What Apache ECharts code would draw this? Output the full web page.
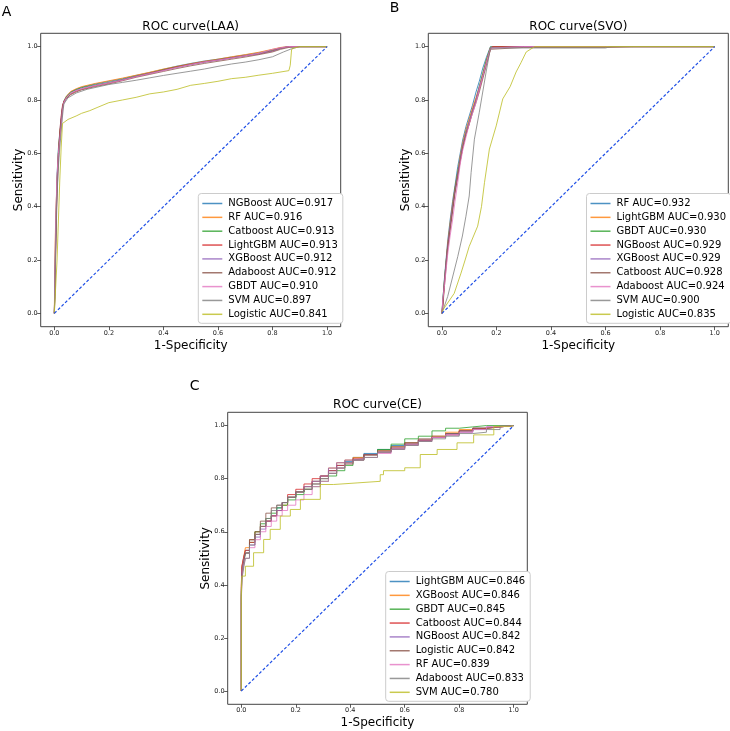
<!DOCTYPE html>
<html><head><meta charset="utf-8">
<script src="https://cdn.jsdelivr.net/npm/echarts@6/dist/echarts.min.js"></script>
<style>html,body{margin:0;padding:0;background:#fff}#c{width:730px;height:731px}</style>
</head><body><div id="c"></div><script>
// ---------- Panel A (LAA) ----------
const A_fpr = [0, 0.002, 0.005, 0.01, 0.015, 0.02, 0.025, 0.03, 0.035, 0.045, 0.06, 0.08, 0.1, 0.15, 0.2, 0.25, 0.3, 0.35, 0.4, 0.45, 0.5, 0.55, 0.6, 0.65, 0.7, 0.75, 0.8, 0.83, 0.86, 0.9, 1.0];
const A_NGBoost  = [0, 0.12, 0.32, 0.52, 0.62, 0.68, 0.73, 0.775, 0.797, 0.815, 0.83, 0.84, 0.848, 0.86, 0.87, 0.88, 0.892, 0.903, 0.915, 0.927, 0.937, 0.946, 0.953, 0.961, 0.969, 0.977, 0.988, 0.996, 1.0, 1.0, 1.0];
const A_RF       = [0, 0.2, 0.36, 0.5, 0.6, 0.67, 0.72, 0.77, 0.795, 0.815, 0.832, 0.842, 0.85, 0.862, 0.872, 0.882, 0.893, 0.904, 0.916, 0.926, 0.936, 0.945, 0.953, 0.962, 0.97, 0.979, 0.99, 0.997, 1.0, 1.0, 1.0];
const A_Catboost = [0, 0.1, 0.28, 0.5, 0.61, 0.67, 0.72, 0.77, 0.793, 0.812, 0.828, 0.838, 0.846, 0.857, 0.866, 0.877, 0.889, 0.9, 0.913, 0.924, 0.934, 0.943, 0.951, 0.958, 0.966, 0.974, 0.985, 0.994, 1.0, 1.0, 1.0];
const A_LightGBM = [0, 0.08, 0.25, 0.48, 0.6, 0.68, 0.74, 0.78, 0.795, 0.808, 0.822, 0.833, 0.84, 0.853, 0.863, 0.875, 0.888, 0.9, 0.912, 0.924, 0.934, 0.943, 0.95, 0.958, 0.966, 0.973, 0.984, 0.994, 1.0, 1.0, 1.0];
const A_XGBoost  = [0, 0.1, 0.3, 0.5, 0.6, 0.66, 0.72, 0.77, 0.792, 0.81, 0.825, 0.836, 0.843, 0.855, 0.865, 0.876, 0.888, 0.899, 0.911, 0.922, 0.932, 0.941, 0.949, 0.957, 0.965, 0.973, 0.983, 0.993, 1.0, 1.0, 1.0];
const A_Adaboost = [0, 0.06, 0.22, 0.45, 0.58, 0.66, 0.72, 0.77, 0.79, 0.806, 0.82, 0.83, 0.838, 0.85, 0.86, 0.872, 0.885, 0.896, 0.907, 0.918, 0.928, 0.937, 0.945, 0.953, 0.961, 0.97, 0.98, 0.99, 0.997, 1.0, 1.0];
const A_GBDT     = [0, 0.15, 0.35, 0.52, 0.6, 0.65, 0.7, 0.76, 0.79, 0.81, 0.826, 0.835, 0.842, 0.854, 0.864, 0.874, 0.887, 0.899, 0.91, 0.922, 0.933, 0.943, 0.95, 0.957, 0.966, 0.975, 0.99, 0.996, 1.0, 1.0, 1.0];
const A_SVM_fpr  = [0, 0.003, 0.008, 0.015, 0.02, 0.03, 0.035, 0.05, 0.08, 0.12, 0.2, 0.25, 0.3, 0.35, 0.4, 0.45, 0.5, 0.55, 0.6, 0.65, 0.7, 0.75, 0.8, 0.84, 0.87, 0.9, 1.0];
const A_SVM      = [0, 0.15, 0.4, 0.55, 0.62, 0.74, 0.785, 0.808, 0.826, 0.84, 0.858, 0.866, 0.874, 0.883, 0.892, 0.9, 0.908, 0.916, 0.926, 0.935, 0.942, 0.951, 0.962, 0.98, 0.992, 1.0, 1.0];
const A_Log_fpr  = [0, 0.005, 0.01, 0.015, 0.02, 0.025, 0.03, 0.05, 0.08, 0.1, 0.13, 0.16, 0.2, 0.25, 0.3, 0.35, 0.4, 0.45, 0.5, 0.55, 0.6, 0.65, 0.7, 0.75, 0.8, 0.86, 0.865, 0.87, 0.88, 0.9, 1.0];
const A_Logistic = [0, 0.1, 0.2, 0.35, 0.5, 0.62, 0.712, 0.727, 0.74, 0.75, 0.76, 0.773, 0.79, 0.8, 0.81, 0.823, 0.83, 0.84, 0.855, 0.862, 0.87, 0.88, 0.885, 0.893, 0.9, 0.91, 0.93, 0.99, 0.995, 1.0, 1.0];
const A_names = ['NGBoost AUC=0.917','RF AUC=0.916','Catboost AUC=0.913','LightGBM AUC=0.913','XGBoost AUC=0.912','Adaboost AUC=0.912','GBDT AUC=0.910','SVM AUC=0.897','Logistic AUC=0.841'];

// ---------- Panel B (SVO) ----------
const B_fpr = [0, 0.003, 0.009, 0.015, 0.021, 0.03, 0.039, 0.048, 0.058, 0.067, 0.076, 0.088, 0.1, 0.112, 0.125, 0.137, 0.15, 0.163, 0.178, 0.185, 0.3, 0.6, 0.7, 1.0];
const B_RF       = [0, 0.04, 0.13, 0.2, 0.27, 0.35, 0.42, 0.48, 0.55, 0.6, 0.65, 0.7, 0.74, 0.78, 0.83, 0.87, 0.92, 0.96, 1.0, 1.0, 1.0, 1.0, 1.0, 1.0];
const B_LightGBM = [0, 0.03, 0.12, 0.19, 0.26, 0.34, 0.41, 0.47, 0.53, 0.59, 0.64, 0.69, 0.73, 0.77, 0.81, 0.85, 0.9, 0.95, 0.998, 1.0, 1.0, 1.0, 1.0, 1.0];
const B_GBDT     = [0, 0.05, 0.12, 0.19, 0.25, 0.33, 0.4, 0.47, 0.53, 0.58, 0.63, 0.68, 0.72, 0.76, 0.8, 0.85, 0.9, 0.95, 0.998, 1.0, 1.0, 1.0, 1.0, 1.0];
const B_NGBoost  = [0, 0.03, 0.11, 0.18, 0.25, 0.32, 0.39, 0.46, 0.52, 0.57, 0.62, 0.67, 0.71, 0.76, 0.8, 0.84, 0.89, 0.94, 0.99, 1.0, 1.0, 1.0, 1.0, 1.0];
const B_XGBoost  = [0, 0.04, 0.12, 0.19, 0.25, 0.33, 0.4, 0.46, 0.52, 0.58, 0.63, 0.68, 0.72, 0.76, 0.8, 0.85, 0.89, 0.94, 0.995, 1.0, 1.0, 1.0, 1.0, 1.0];
const B_Catboost = [0, 0.02, 0.1, 0.17, 0.24, 0.31, 0.38, 0.45, 0.51, 0.57, 0.62, 0.67, 0.71, 0.75, 0.79, 0.83, 0.88, 0.93, 0.99, 0.997, 0.997, 0.997, 1.0, 1.0];
const B_Adaboost = [0, 0.05, 0.1, 0.16, 0.22, 0.29, 0.35, 0.42, 0.49, 0.56, 0.61, 0.66, 0.71, 0.75, 0.79, 0.84, 0.89, 0.94, 0.995, 1.0, 1.0, 1.0, 1.0, 1.0];
const B_SVM_fpr  = [0, 0.021, 0.04, 0.058, 0.075, 0.088, 0.1, 0.107, 0.119, 0.137, 0.162, 0.178, 0.6, 0.62, 1.0];
const B_SVM      = [0, 0.063, 0.14, 0.213, 0.29, 0.364, 0.44, 0.528, 0.653, 0.754, 0.905, 0.995, 0.995, 1.0, 1.0];
const B_Log_fpr  = [0, 0.003, 0.045, 0.07, 0.085, 0.1, 0.131, 0.145, 0.156, 0.174, 0.199, 0.223, 0.25, 0.272, 0.29, 0.309, 0.34, 1.0];
const B_Logistic = [0, 0.012, 0.075, 0.151, 0.2, 0.251, 0.327, 0.4, 0.49, 0.616, 0.703, 0.804, 0.85, 0.905, 0.94, 0.98, 1.0, 1.0];
const B_names = ['RF AUC=0.932','LightGBM AUC=0.930','GBDT AUC=0.930','NGBoost AUC=0.929','XGBoost AUC=0.929','Catboost AUC=0.928','Adaboost AUC=0.924','SVM AUC=0.900','Logistic AUC=0.835'];

// ---------- Panel C (CE) ----------
const C_fpr = [0, 0.002, 0.008, 0.015, 0.03, 0.05, 0.07, 0.09, 0.11, 0.13, 0.15, 0.17, 0.2, 0.23, 0.26, 0.29, 0.32, 0.35, 0.38, 0.41, 0.45, 0.5, 0.55, 0.6, 0.65, 0.7, 0.75, 0.8, 0.85, 0.9, 0.95, 1.0];
const C_LightGBM = [0, 0.36, 0.46, 0.5, 0.53, 0.57, 0.59, 0.62, 0.64, 0.66, 0.69, 0.71, 0.73, 0.75, 0.77, 0.79, 0.81, 0.83, 0.85, 0.865, 0.88, 0.895, 0.91, 0.925, 0.935, 0.945, 0.955, 0.97, 0.98, 0.99, 0.995, 1.0];
const C_XGBoost  = [0, 0.4, 0.47, 0.5, 0.54, 0.57, 0.6, 0.62, 0.64, 0.66, 0.68, 0.7, 0.73, 0.75, 0.77, 0.79, 0.81, 0.84, 0.86, 0.87, 0.88, 0.89, 0.905, 0.92, 0.935, 0.945, 0.96, 0.975, 0.985, 0.99, 0.995, 1.0];
const C_GBDT     = [0, 0.37, 0.44, 0.48, 0.52, 0.56, 0.6, 0.63, 0.65, 0.67, 0.69, 0.7, 0.72, 0.74, 0.76, 0.77, 0.79, 0.81, 0.83, 0.85, 0.87, 0.89, 0.91, 0.93, 0.95, 0.96, 0.98, 0.99, 0.995, 1.0, 1.0, 1.0];
const C_Catboost = [0, 0.39, 0.47, 0.5, 0.53, 0.56, 0.59, 0.62, 0.64, 0.66, 0.68, 0.71, 0.74, 0.76, 0.78, 0.8, 0.81, 0.83, 0.85, 0.86, 0.875, 0.89, 0.9, 0.915, 0.93, 0.945, 0.955, 0.965, 0.98, 0.99, 0.995, 1.0];
const C_NGBoost  = [0, 0.38, 0.45, 0.49, 0.52, 0.55, 0.58, 0.61, 0.64, 0.66, 0.68, 0.71, 0.73, 0.75, 0.77, 0.79, 0.81, 0.84, 0.86, 0.87, 0.875, 0.89, 0.9, 0.915, 0.93, 0.945, 0.955, 0.965, 0.975, 0.985, 0.995, 1.0];
const C_Logistic = [0, 0.35, 0.43, 0.48, 0.52, 0.57, 0.6, 0.64, 0.67, 0.69, 0.7, 0.71, 0.73, 0.75, 0.76, 0.78, 0.8, 0.82, 0.84, 0.855, 0.87, 0.89, 0.905, 0.92, 0.935, 0.95, 0.96, 0.97, 0.98, 0.99, 0.995, 1.0];
const C_RF       = [0, 0.33, 0.42, 0.47, 0.5, 0.54, 0.57, 0.6, 0.62, 0.64, 0.66, 0.68, 0.7, 0.72, 0.74, 0.77, 0.79, 0.82, 0.84, 0.86, 0.87, 0.88, 0.895, 0.91, 0.925, 0.94, 0.955, 0.965, 0.975, 0.985, 0.995, 1.0];
const C_Adaboost = [0, 0.34, 0.42, 0.46, 0.5, 0.55, 0.59, 0.62, 0.65, 0.68, 0.7, 0.71, 0.73, 0.75, 0.76, 0.78, 0.8, 0.82, 0.84, 0.86, 0.87, 0.88, 0.9, 0.91, 0.925, 0.94, 0.95, 0.96, 0.97, 0.975, 0.985, 1.0];
const C_SVM_fpr  = [0, 0.002, 0.015, 0.045, 0.082, 0.106, 0.143, 0.18, 0.217, 0.29, 0.339, 0.425, 0.51, 0.522, 0.6, 0.657, 0.719, 0.792, 0.853, 0.927, 0.988, 1.0];
const C_SVM      = [0, 0.36, 0.433, 0.47, 0.521, 0.571, 0.609, 0.659, 0.684, 0.722, 0.778, 0.784, 0.79, 0.815, 0.83, 0.841, 0.891, 0.91, 0.935, 0.965, 0.997, 1.0];
const C_names = ['LightGBM AUC=0.846','XGBoost AUC=0.846','GBDT AUC=0.845','Catboost AUC=0.844','NGBoost AUC=0.842','Logistic AUC=0.842','RF AUC=0.839','Adaboost AUC=0.833','SVM AUC=0.780'];

const tickValues = [0, 0.2, 0.4, 0.6, 0.8, 1.0];
const diagonal = [[0, 0], [1, 1]];

// ---------- build ----------
const tab10 = ['31,119,180','255,127,14','44,160,44','214,39,40','148,103,189','140,86,75','227,119,194','127,127,127','188,189,34'];
const FONT = 'DejaVu Sans';
const zip = (xs, ys) => xs.map((x, i) => [x, ys[i]]);

const panels = [
  { names: A_names, title: 'ROC curve(LAA)', letter: 'A', step: false,
    curves: [zip(A_fpr,A_NGBoost), zip(A_fpr,A_RF), zip(A_fpr,A_Catboost), zip(A_fpr,A_LightGBM), zip(A_fpr,A_XGBoost), zip(A_fpr,A_Adaboost), zip(A_fpr,A_GBDT), zip(A_SVM_fpr,A_SVM), zip(A_Log_fpr,A_Logistic)],
    grid: { left: 40.7, top: 33.3, width: 300, height: 293.4 }, legend: { left: 198.3, top: 193.5 },
    titleXY: [190.7, 27], letterXY: [6.5, 12] },
  { names: B_names, title: 'ROC curve(SVO)', letter: 'B', step: false,
    curves: [zip(B_fpr,B_RF), zip(B_fpr,B_LightGBM), zip(B_fpr,B_GBDT), zip(B_fpr,B_NGBoost), zip(B_fpr,B_XGBoost), zip(B_fpr,B_Catboost), zip(B_fpr,B_Adaboost), zip(B_SVM_fpr,B_SVM), zip(B_Log_fpr,B_Logistic)],
    grid: { left: 428.3, top: 33.3, width: 300, height: 293.4 }, legend: { left: 586.5, top: 193.5 },
    titleXY: [578.3, 27], letterXY: [394.5, 8.5] },
  { names: C_names, title: 'ROC curve(CE)', letter: 'C', step: 'start',
    curves: [zip(C_fpr,C_LightGBM), zip(C_fpr,C_XGBoost), zip(C_fpr,C_GBDT), zip(C_fpr,C_Catboost), zip(C_fpr,C_NGBoost), zip(C_fpr,C_Logistic), zip(C_fpr,C_RF), zip(C_fpr,C_Adaboost), zip(C_SVM_fpr,C_SVM)],
    grid: { left: 227.7, top: 412.3, width: 299.6, height: 292 }, legend: { left: 385.7, top: 571.5 },
    titleXY: [377.5, 405], letterXY: [194.7, 386.7] }
];

const grid = [], xAxis = [], yAxis = [], series = [], legend = [], graphic = [];
const axisCommon = {
  type: 'value', min: -0.05, max: 1.05,
  axisLine: { show: false, onZero: false },
  axisTick: { show: true, customValues: tickValues, length: 3.5, lineStyle: { color: '#333', width: 0.8 } },
  axisLabel: { customValues: tickValues, formatter: v => v.toFixed(1), fontSize: 6.5, color: '#222', fontFamily: FONT, margin: 3 },
  splitLine: { show: false },
  nameMoveOverlap: false,
  nameTextStyle: { fontSize: 12, color: '#000', fontFamily: FONT }
};
panels.forEach((p, i) => {
  grid.push(Object.assign({ show: true, borderColor: '#444', borderWidth: 1, backgroundColor: 'transparent', containLabel: false }, p.grid));
  xAxis.push(Object.assign({}, axisCommon, { gridIndex: i, name: '1-Specificity', nameLocation: 'middle', nameGap: 13 }));
  yAxis.push(Object.assign({}, axisCommon, { gridIndex: i, name: 'Sensitivity', nameLocation: 'middle', nameGap: 16 }));
  p.curves.forEach((d, k) => {
    series.push({
      type: 'line', name: p.names[k], data: d, xAxisIndex: i, yAxisIndex: i,
      showSymbol: false, symbol: 'none', step: p.step, silent: true, animation: false,
      color: 'rgba(' + tab10[k] + ',0.8)',
      lineStyle: { width: 1 }, z: 2 + k
    });
  });
  series.push({
    type: 'line', name: 'diag' + i, data: diagonal, xAxisIndex: i, yAxisIndex: i,
    showSymbol: false, symbol: 'none', silent: true, animation: false,
    lineStyle: { color: '#1f4fe6', width: 1.2, type: [3, 2] }, z: 20
  });
  legend.push({
    data: p.names, orient: 'vertical', left: p.legend.left, top: p.legend.top,
    icon: 'rect', itemWidth: 20, itemHeight: 1.5, itemGap: 1.85,
    padding: [4, 5, 3, 4], backgroundColor: '#fff', borderColor: '#cccccc', borderWidth: 1, borderRadius: 3,
    selectedMode: false,
    textStyle: { fontSize: 10, fontFamily: FONT, color: '#000', lineHeight: 12, padding: [0, 0, 0, 1] }
  });
  graphic.push({ type: 'text', x: p.titleXY[0], y: p.titleXY[1], silent: true,
    style: { text: p.title, font: '12px "DejaVu Sans"', fill: '#000', align: 'center', verticalAlign: 'middle' } });
  graphic.push({ type: 'text', x: p.letterXY[0], y: p.letterXY[1], silent: true,
    style: { text: p.letter, font: '14px "DejaVu Sans"', fill: '#000', align: 'center', verticalAlign: 'middle' } });
});

const chart = echarts.init(document.getElementById('c'));
chart.setOption({
  animation: false, backgroundColor: '#fff',
  textStyle: { fontFamily: FONT },
  grid, xAxis, yAxis, series, legend, graphic
});
</script></body></html>
